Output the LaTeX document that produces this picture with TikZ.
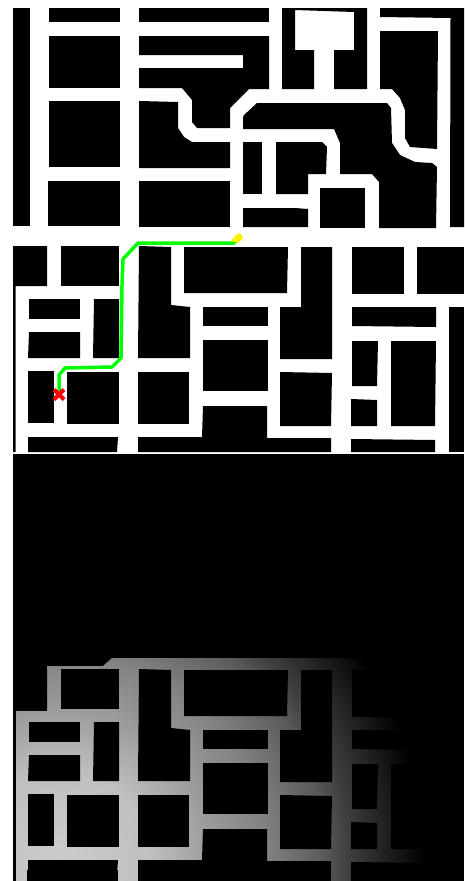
\documentclass[tikz,border=0pt]{standalone}
\usepackage{tikz}
\pgfdeclareradialshading{fieldglow}{\pgfpoint{0bp}{0bp}}{%
  color(0bp)=(black!20!white);
  color(6.2bp)=(black!25!white);
  color(10.3bp)=(black!39!white);
  color(14.1bp)=(black!49!white);
  color(18.1bp)=(black!65!white);
  color(19.7bp)=(black!75!white);
  color(23.3bp)=(black!92!white);
  color(25bp)=(black);
  color(50bp)=(black)}
\tikzset{
  block/.style={fill=black},
  route/.style={draw=green,line width=3.5pt,line join=round},
  goalmark/.style={draw=red,line width=4pt}}
% the lower map is used twice, once as the mask over the field
\newcommand{\lowermap}{%
  \fill[block] (13,246)--(47,246)--(47,286)--(15.5,286)--(15.5,452)--(13,452)--cycle;
  \fill[block] (61,246) rectangle (119,286);
  \fill[block] (29,299) rectangle (80,319);
  \fill[block] (29,332)--(80,332)--(80,358)--(28,358)--cycle;
  \fill[block] (94,299)--(119,299)--(119,358)--(93,358)--cycle;
  \fill[block] (28,371) rectangle (54,423);
  \fill[block] (67,372) rectangle (119,424);
  \fill[block] (138,372) rectangle (189,424);
  \fill[block] (28,437)--(118,437)--(117,452)--(28,452)--cycle;
  \fill[block] (139,246)--(171,247)--(171,305)--(190,307)--(190,358)--(138,358)--cycle;
  \fill[block] (184,247)--(288,247)--(287,293)--(184,293)--cycle;
  \fill[block] (203,307) rectangle (268,326);
  \fill[block] (203,340) rectangle (268,391);
  \fill[block] (138,437)--(202,437)--(203,406)--(267,406)--(267,438)--(331,438)--(331,452)--(138,452)--cycle;
  \fill[block] (301,247)--(332,247)--(332,359)--(280,359)--(280,307)--(301,307)--cycle;
  \fill[block] (280,372)--(332,373)--(331,426)--(280,426)--cycle;
  \fill[block] (352,247) rectangle (404,294);
  \fill[block] (417,247) rectangle (464,294);
  \fill[block] (352,307)--(436,307)--(436,327)--(352,326)--cycle;
  \fill[block] (352,341)--(378,341)--(377,386)--(352,386)--cycle;
  \fill[block] (391,341)--(436,341)--(435,426)--(391,426)--cycle;
  \fill[block] (351,399)--(377,400)--(377,426)--(351,426)--cycle;
  \fill[block] (351,439)--(435,440)--(435,452)--(351,452)--cycle;
  \fill[block] (449,307) rectangle (464,452);
}
\begin{document}
\begin{tikzpicture}[x=1pt,y=-1pt]
\useasboundingbox (0,0) rectangle (464,881);
\fill[white] (0,0) rectangle (464,881);
% upper map
\fill[block] (13,8) rectangle (29.5,226);
\fill[block] (49,8) rectangle (119.5,22);
\fill[block] (48.5,36) rectangle (119.5,88);
\fill[block] (48.5,101) rectangle (119.5,167);
\fill[block] (48,181) rectangle (119.5,226);
\fill[block] (139,8) rectangle (269,22);
\fill[block] (139,36)--(269,36)--(269,89)--(249,89)--(230,108)--(230,128)--(197,128)--(192,122)--(192,100)--(182,88)--(139,88)--(139,68)--(243,68)--(243,55)--(139,55)--cycle;
\fill[block] (139,101)--(178,102)--(178,128)--(184,137)--(192,142)--(230,142)--(230,168)--(139,168)--cycle;
\fill[block] (139,181) rectangle (230,227);
\fill[block] (282,8)--(367,8)--(367,89)--(334,89)--(334,50)--(354,50)--(354,12)--(295,10)--(295,50)--(314,50)--(314,89)--(282,89)--cycle;
\fill[block] (380,8)--(464,8)--(464,227)--(450,227)--(450.5,18)--(380,17)--cycle;
\fill[block] (380,31)--(438,31)--(437,149)--(410,147)--(405,138)--(405,110)--(400,98)--(392,89)--(380,89)--cycle;
\fill[block] (243,117)--(243,129)--(334,129)--(340,143)--(340,174)--(372,174)--(379,182)--(379,228)--(436,228)--(437,167)--(432,163)--(415,162)--(400,155)--(392,143)--(391,108)--(387,103)--(257,103)--(244,115)--cycle;
\fill[block] (243,142) rectangle (262,194);
\fill[block] (276,142)--(322,142)--(327,147)--(326,174)--(308,174)--(308,194)--(276,194)--cycle;
\fill[block] (243,208)--(295,208)--(308,209)--(308,227)--(243,227)--cycle;
\fill[block] (320,188)--(365,188)--(365,228)--(320,228)--cycle;
% lower map with route
\lowermap
\draw[route] (241,235)--(234,243)--(138,243)--(123,259)--(122,286)--(121,358)--(112,367)--(65,368)--(59,375)--(59,395);
\fill[yellow] (231,241)--(237,234)--(240,233)--(243,238)--(238,243)--cycle;
\draw[goalmark] (54,389.5)--(64,399.5) (54,399.5)--(64,389.5);
% field panel
\fill[block] (13,454) rectangle (464,881);
\begin{scope}
  \clip (16,711)--(47,711)--(47,666)--(103,666)--(112,658)--(464,658)--(464,881)--(16,881)--cycle;
  \shade[shading=fieldglow] (60,860) circle (365pt);
\end{scope}
\begin{scope}[yshift=-423pt]
  \lowermap
\end{scope}
\fill[block] (27,870) rectangle (118,881);
\fill[block] (138,870) rectangle (331,881);
\fill[block] (351,870) rectangle (464,881);
\end{tikzpicture}
\end{document}
